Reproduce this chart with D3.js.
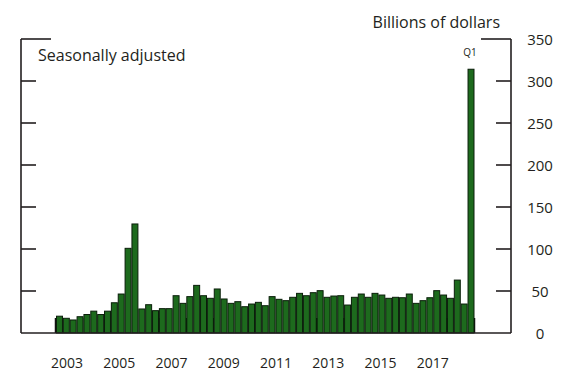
<!DOCTYPE html>
<html>
<head>
<meta charset="utf-8">
<script src="https://cdn.jsdelivr.net/npm/d3@7"></script>
<style>
  body { margin: 0; background: #fff; }
  text { font-family: "Open Sans", sans-serif; fill: #231f20; }
</style>
</head>
<body>
<svg id="chart" width="570" height="375"></svg>
<script>
// quarterly values, 2003:Q1 - 2018:Q1, billions of dollars
var quarters = [];
for (var yr = 2003; yr <= 2018; yr++) {
	for (var q = 1; q <= 4; q++) {
		if (yr === 2018 && q > 1) break;
		quarters.push(yr + "Q" + q);
	}
}
var values = [
	20, 17.5, 15.5, 19.4,
	22, 26, 22, 26,
	36, 46.4, 100.8, 129.8,
	28.6, 33.7, 26.6, 29,
	29, 44.4, 35.3, 43.3,
	56.7, 44.4, 41.3, 52.4,
	40.5, 35.3, 37.3, 31.3,
	34.5, 36.5, 32.5, 43.3,
	40.1, 38.5, 42.5, 47.2,
	44.4, 48, 50.4, 42.5,
	44, 44.4, 33.3, 42.5,
	46.4, 42.5, 47.2, 45.2,
	41.3, 42.5, 42, 46.4,
	35.3, 38.5, 42, 50.4,
	45.2, 41.3, 63, 34.5,
	314
];
var yTicks = [0, 50, 100, 150, 200, 250, 300, 350];
var yearTicks = d3.range(2003, 2020);
var yearLabels = [2003, 2005, 2007, 2009, 2011, 2013, 2015, 2017];

(function(){
	var svg = d3.select("#chart");

	var pLeft = 21, pRight = 511, pTop = 39, pBottom = 333;
	var tickLen = 15;

	var y = d3.scaleLinear().domain([0, 350]).range([pBottom, pTop]);
	var x = d3.scaleBand().domain(quarters).range([56.5, 474]).paddingInner(0.13).paddingOuter(0);
	var xt = d3.scaleLinear().domain([2003, 2019]).range([56, 474]);

	// year ticks (drawn behind the bars, show in the gaps)
	svg.append("g").attr("class", "xticks")
		.selectAll("line").data(yearTicks).enter().append("line")
		.attr("x1", function(d){ return xt(d); })
		.attr("x2", function(d){ return xt(d); })
		.attr("y1", pBottom).attr("y2", pBottom - tickLen)
		.attr("stroke", "#111").attr("stroke-width", 2.5);

	// bars
	svg.append("g").attr("class", "bars")
		.selectAll("rect").data(values).enter().append("rect")
		.attr("x", function(d, i){ return x(quarters[i]); })
		.attr("width", x.bandwidth())
		.attr("y", function(d){ return y(d); })
		.attr("height", function(d){ return pBottom - y(d); })
		.attr("fill", "#1d6a1d")
		.attr("stroke", "#0a1e0a")
		.attr("stroke-width", 1);

	// frame
	var frame = svg.append("g").attr("stroke", "#231f20").attr("stroke-width", 1.6).attr("fill", "none");
	frame.append("line").attr("x1", pLeft).attr("x2", pRight).attr("y1", pBottom).attr("y2", pBottom);
	frame.append("line").attr("x1", pLeft).attr("x2", pLeft).attr("y1", pTop).attr("y2", pBottom);
	frame.append("line").attr("x1", pRight).attr("x2", pRight).attr("y1", pTop).attr("y2", pBottom);
	frame.append("line").attr("x1", pLeft).attr("x2", pLeft + 30).attr("y1", y(350)).attr("y2", y(350));
	frame.append("line").attr("x1", pRight - 30).attr("x2", pRight).attr("y1", y(350)).attr("y2", y(350));

	var inner = yTicks.filter(function(d){ return d > 0 && d < 350; });
	frame.selectAll("line.lt").data(inner).enter().append("line").attr("class", "lt")
		.attr("x1", pLeft).attr("x2", pLeft + tickLen)
		.attr("y1", function(d){ return y(d); }).attr("y2", function(d){ return y(d); });
	frame.selectAll("line.rt").data(inner).enter().append("line").attr("class", "rt")
		.attr("x1", pRight - tickLen).attr("x2", pRight)
		.attr("y1", function(d){ return y(d); }).attr("y2", function(d){ return y(d); });

	// right axis labels
	svg.append("g").selectAll("text").data(yTicks).enter().append("text")
		.attr("x", 540).attr("y", function(d){ return y(d) + 5.5; })
		.attr("text-anchor", "middle")
		.style("font-size", "15px")
		.text(function(d){ return d; });

	// year labels
	svg.append("g").selectAll("text").data(yearLabels).enter().append("text")
		.attr("x", function(d){ return xt(d + 0.5) - 2; })
		.attr("y", 368)
		.attr("text-anchor", "middle")
		.style("font-size", "14px")
		.text(function(d){ return d; });

	svg.append("text").attr("x", 38).attr("y", 61)
		.style("font-size", "16px")
		.text("Seasonally adjusted");

	svg.append("text").attr("x", 500).attr("y", 28)
		.attr("text-anchor", "end")
		.style("font-size", "16px")
		.text("Billions of dollars");

	svg.append("text")
		.attr("x", x(quarters[quarters.length - 1]) + x.bandwidth() / 2 - 1)
		.attr("y", 56)
		.attr("text-anchor", "middle")
		.style("font-size", "10px")
		.text("Q1");
})();
</script>
</body>
</html>
